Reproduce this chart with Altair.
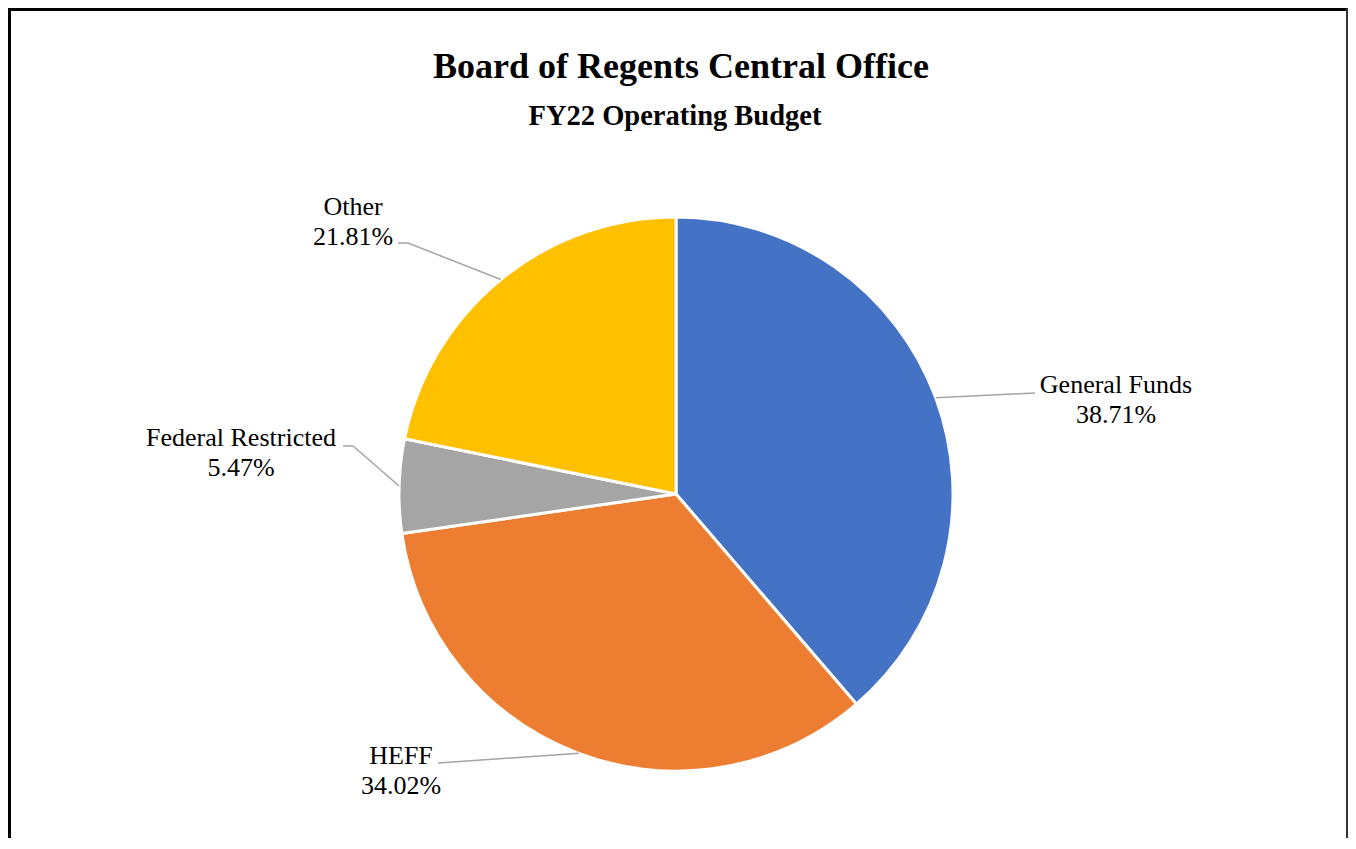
import altair as alt
import numpy as np
import pandas as pd

# ---- data ----
categories = ["General Funds", "HEFF", "Federal Restricted", "Other"]
shares = [38.71, 34.02, 5.47, 21.81]
colors = ["#4472C4", "#ED7D31", "#A5A5A5", "#FFC000"]

title_text = "Board of Regents Central Office"
subtitle_text = "FY22 Operating Budget"

# ---- layout (pixels) ----
W, H = 1340, 830
CX, CY, R = 668, 486, 277

# label anchor (centre x, first baseline) relative to pie centre: dx right, dy down
label_offsets = {
    "General Funds": (440, -101),
    "HEFF": (-275, 270),
    "Federal Restricted": (-435, -48),
    "Other": (-323, -279),
}
# leader line elbow and end, relative to pie centre
leader_offsets = {
    "General Funds": [(359, -101), (359, -101)],
    "HEFF": [(-238, 269), (-238, 269)],
    "Federal Restricted": [(-323, -48), (-333, -48)],
    "Other": [(-268, -251), (-278, -251)],
}

total = sum(shares)
pie_df = pd.DataFrame({
    "category": categories,
    "share": shares,
    "idx": list(range(len(categories))),
})

label_rows = []
leader_rows = []
cum = 0.0
for cat, val in zip(categories, shares):
    mid = (cum + val / 2) / total * 2 * np.pi
    cum += val
    dx, dy = label_offsets[cat]
    label_rows.append({
        "category": cat,
        "u": dx / R,
        "v": -dy / R,
        "label": f"{cat}\n{val:.2f}%",
    })
    pts = [(np.sin(mid), np.cos(mid))] + [(ex / R, -ey / R) for ex, ey in leader_offsets[cat]]
    for k, (u, v) in enumerate(pts):
        leader_rows.append({"category": cat, "ord": k, "u": u, "v": v})

label_df = pd.DataFrame(label_rows)
leader_df = pd.DataFrame(leader_rows)

x_scale = alt.Scale(domain=[-CX / R, (W - CX) / R], nice=False, zero=False)
y_scale = alt.Scale(domain=[-(H - CY) / R, CY / R], nice=False, zero=False)

pie = alt.Chart(pie_df).mark_arc(outerRadius=R, stroke="white", strokeWidth=3).encode(
    theta=alt.Theta("share:Q", stack=True),
    color=alt.Color("category:N", scale=alt.Scale(domain=categories, range=colors), legend=None),
    order=alt.Order("idx:Q"),
    x=alt.value(CX),
    y=alt.value(CY),
)

leaders = alt.Chart(leader_df).mark_line(color="#A5A5A5", strokeWidth=1.5).encode(
    x=alt.X("u:Q", scale=x_scale, axis=None),
    y=alt.Y("v:Q", scale=y_scale, axis=None),
    detail="category:N",
    order=alt.Order("ord:Q"),
)

labels = alt.Chart(label_df).mark_text(
    align="center", baseline="alphabetic", lineBreak="\n", lineHeight=30,
    font="Liberation Serif", fontSize=26, color="black",
).encode(
    x=alt.X("u:Q", scale=x_scale, axis=None),
    y=alt.Y("v:Q", scale=y_scale, axis=None),
    text="label:N",
)

one = pd.DataFrame({"t": [title_text], "s": [subtitle_text]})
title = alt.Chart(one).mark_text(
    align="center", baseline="alphabetic", font="Liberation Serif",
    fontSize=36, fontWeight="bold", color="black",
).encode(text="t:N", x=alt.value(673), y=alt.value(70))
subtitle = alt.Chart(one).mark_text(
    align="center", baseline="alphabetic", font="Liberation Serif",
    fontSize=28.5, fontWeight="bold", color="black",
).encode(text="s:N", x=alt.value(667), y=alt.value(117))

frame_left = alt.Chart(one).mark_rule(color="black", strokeWidth=3).encode(
    x=alt.value(1.5), y=alt.value(0), y2=alt.value(H))
frame_top = alt.Chart(one).mark_rule(color="black", strokeWidth=3).encode(
    y=alt.value(1.5), x=alt.value(0), x2=alt.value(W))
frame_right = alt.Chart(one).mark_rule(color="#333333", strokeWidth=2).encode(
    x=alt.value(W - 1), y=alt.value(0), y2=alt.value(H))

chart = alt.layer(
    pie, leaders, labels, title, subtitle, frame_left, frame_top, frame_right
).properties(
    width=W, height=H, padding=0,
    autosize=alt.AutoSizeParams(type="none"),
).configure_view(stroke=None)

chart.save("out.html", embed_options={"renderer": "svg", "actions": False})
